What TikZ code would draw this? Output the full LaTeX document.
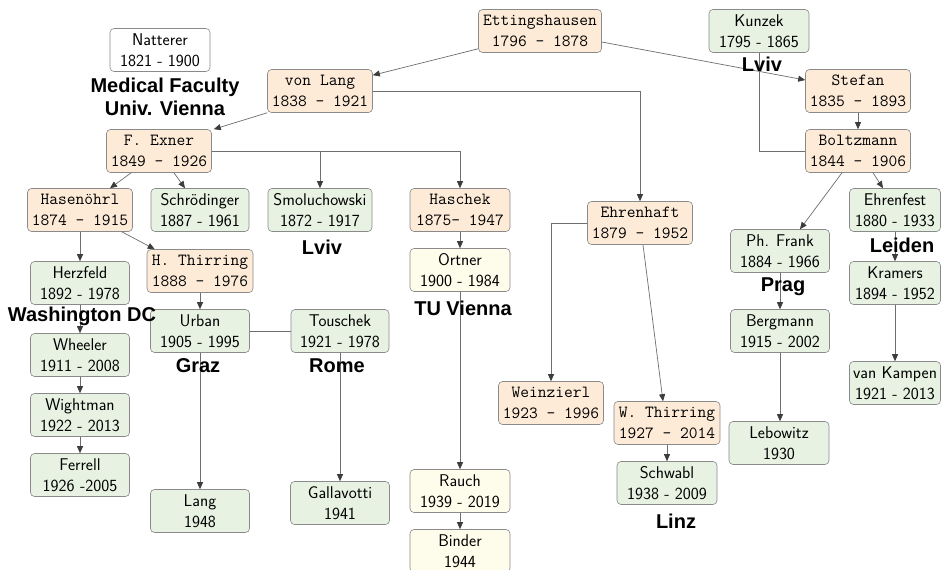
\documentclass[tikz,border=0pt]{standalone}
\usepackage{fontspec}
\newfontfamily\labfont{Liberation Sans}
\usetikzlibrary{arrows.meta}
\definecolor{orfill}{HTML}{FDEBD8}
\definecolor{grfill}{HTML}{E7F2E2}
\definecolor{yefill}{HTML}{FEFCEA}
\definecolor{boxline}{HTML}{8A8A8A}
\definecolor{linec}{HTML}{6E6E6E}
\definecolor{arrc}{HTML}{3C3C3C}
\begin{document}
\begin{tikzpicture}[x=1pt,y=-1pt,
  box/.style={draw=boxline, rounded corners=4pt, align=center, minimum height=43pt,
    inner xsep=3pt, inner ysep=2pt, line width=0.6pt},
  orb/.style={box, fill=orfill, font=\ttfamily\fontsize{17}{20.5}\selectfont, minimum width=105pt},
  grb/.style={box, fill=grfill, font=\sffamily\fontsize{17}{20.5}\selectfont, minimum width=99pt},
  yeb/.style={box, fill=yefill, font=\sffamily\fontsize{17}{20.5}\selectfont, minimum width=100pt},
  whb/.style={box, fill=white, font=\sffamily\fontsize{17}{20.5}\selectfont, minimum width=100pt},
  lab/.style={font=\labfont\bfseries\fontsize{20}{23}\selectfont, align=center, inner sep=0pt},
  link/.style={draw=linec, line width=0.7pt},
  arr/.style={link, -{Triangle[length=7pt,width=6pt,fill=arrc,color=arrc]}}]
\fill[white] (0,0) rectangle (943,570);
\useasboundingbox (0,0) rectangle (943,570);

% nodes
\node[whb] (natterer) at (160,50) {Natterer\\1821 - 1900};
\node[orb, minimum width=123pt] (ett) at (540,31) {Ettingshausen\\1796 - 1878};
\node[grb, minimum width=100pt] (kunzek) at (759,31) {Kunzek\\1795 - 1865};
\node[orb] (vonlang) at (320,91) {von Lang\\1838 - 1921};
\node[orb] (stefan) at (858,91) {Stefan\\1835 - 1893};
\node[orb] (exner) at (159,151) {F. Exner\\1849 - 1926};
\node[orb] (boltz) at (858,151) {Boltzmann\\1844 - 1906};
\node[orb] (hasen) at (80,210) {Hasenöhrl\\1874 - 1915};
\node[grb, minimum width=98pt] (schr) at (200,210) {Schrödinger\\1887 - 1961};
\node[grb, minimum width=104pt] (smol) at (320,210) {Smoluchowski\\1872 - 1917};
\node[orb, minimum width=100pt] (haschek) at (460,210) {Haschek\\1875- 1947};
\node[orb] (ehrenhaft) at (640,223) {Ehrenhaft\\1879 - 1952};
\node[grb, minimum width=91pt] (ehrenfest) at (895,210) {Ehrenfest\\1880 - 1933};
\node[grb] (frank) at (780,251) {Ph. Frank\\1884 - 1966};
\node[orb, minimum width=106pt] (hthirring) at (200,271) {H. Thirring\\1888 - 1976};
\node[grb] (herzfeld) at (80,283) {Herzfeld\\1892 - 1978};
\node[yeb] (ortner) at (460,270) {Ortner\\1900 - 1984};
\node[grb, minimum width=91pt] (kramers) at (895,283) {Kramers\\1894 - 1952};
\node[grb] (urban) at (200,331) {Urban\\1905 - 1995};
\node[grb, minimum width=98pt] (touschek) at (340,331) {Touschek\\1921 - 1978};
\node[grb] (wheeler) at (80,355) {Wheeler\\1911 - 2008};
\node[grb] (bergmann) at (780,331) {Bergmann\\1915 - 2002};
\node[grb, minimum width=91pt] (vankampen) at (895,383) {van Kampen\\1921 - 2013};
\node[orb] (weinzierl) at (551,403) {Weinzierl\\1923 - 1996};
\node[orb, minimum width=106pt] (wthirring) at (667,423) {W. Thirring\\1927 - 2014};
\node[grb] (wightman) at (80,415) {Wightman\\1922 - 2013};
\node[grb, minimum width=100pt] (lebowitz) at (779,443) {Lebowitz\\1930};
\node[grb] (ferrell) at (80,475) {Ferrell\\1926 -2005};
\node[grb, minimum width=100pt] (schwabl) at (667,483) {Schwabl\\1938 - 2009};
\node[grb] (gallavotti) at (340,503) {Gallavotti\\1941};
\node[grb] (lang) at (200,511) {Lang\\1948};
\node[yeb] (rauch) at (460,491) {Rauch\\1939 - 2019};
\node[yeb] (binder) at (460,551) {Binder\\1944};

% connectors
\draw[arr] ([yshift=4pt]ett.south west) -- ([yshift=-6pt]vonlang.north east);
\draw[arr] ([yshift=-11pt]ett.east) -- ([yshift=11pt]stefan.west);
\draw[arr] (vonlang.east) -| (ehrenhaft.north);
\draw[arr] (vonlang.south west) -- ([xshift=2pt]exner.north east);
\draw[arr] ([xshift=25pt]exner.south west) -- ([xshift=30pt]hasen.north);
\draw[arr] ([xshift=15pt]exner.south) -- ([xshift=-15pt]schr.north);
\draw[arr] (exner.east) -| (smol.north);
\draw[arr] (exner.east) -| (haschek.north);
\draw[link] (kunzek.south) |- (boltz.west);
\draw[arr] (stefan.south) -- (boltz.north);
\draw[arr] ([xshift=-16pt]boltz.south) -- ([xshift=20pt]frank.north);
\draw[arr] ([xshift=15pt]boltz.south) -- ([xshift=-12pt]ehrenfest.north);
\draw[arr] (hasen.south) -- (herzfeld.north);
\draw[arr] ([xshift=-11pt]hasen.south east) -- ([xshift=8pt]hthirring.north west);
\draw[arr] (haschek.south) -- (ortner.north);
\draw[arr] (ehrenhaft.west) -| (weinzierl.north);
\draw[arr] ([xshift=3pt]ehrenhaft.south) -- ([xshift=-4pt]wthirring.north);
\draw[arr] (ehrenfest.south) -- (kramers.north);
\draw[arr] (frank.south) -- (bergmann.north);
\draw[arr] (herzfeld.south) -- (wheeler.north);
\draw[arr] (hthirring.south) -- (urban.north);
\draw[arr] (ortner.south) -- (rauch.north);
\draw[arr] (kramers.south) -- (vankampen.north);
\draw[link] (urban.east) -- (touschek.west);
\draw[arr] (urban.south) -- (lang.north);
\draw[arr] (touschek.south) -- (gallavotti.north);
\draw[arr] (wheeler.south) -- (wightman.north);
\draw[arr] (wightman.south) -- (ferrell.north);
\draw[arr] (bergmann.south) -- (bergmann.south |- lebowitz.north);
\draw[arr] (wthirring.south) -- (schwabl.north);
\draw[arr] (rauch.south) -- (binder.north);

% place labels
\node[lab] (lmed) at (165,97) {Medical Faculty\\Univ. Vienna};
\node[lab] (lviv1) at (762,64) {Lviv};
\node[lab] (lviv2) at (322,247) {Lviv};
\node[lab] (lwash) at (82,316) {Washington DC};
\node[lab] (lgraz) at (198,366) {Graz};
\node[lab] (lrome) at (337,366) {Rome};
\node[lab] (ltu) at (463,308) {TU Vienna};
\node[lab] (lprag) at (783,287) {Prag};
\node[lab] (lleiden) at (902,245) {Leiden};
\node[lab] (llinz) at (676,521) {Linz};
\end{tikzpicture}
\end{document}
